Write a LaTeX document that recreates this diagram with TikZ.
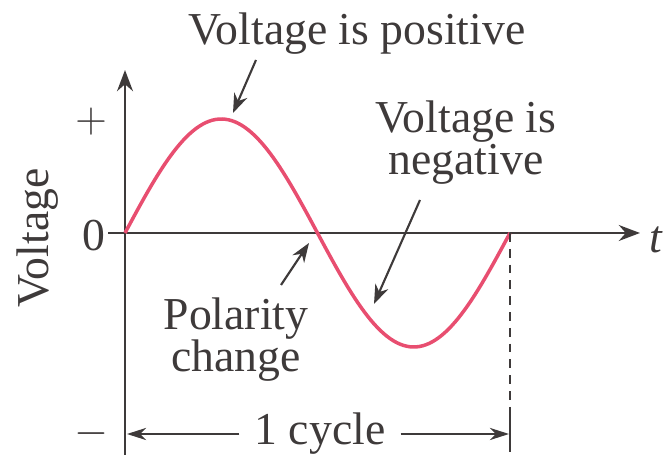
\documentclass[tikz,border=0pt]{standalone}
\usepackage{fontspec}
\setmainfont{Liberation Serif}
\usetikzlibrary{arrows.meta}

\definecolor{wavepink}{RGB}{232,78,112}
\definecolor{inkgray}{RGB}{62,58,58}

\begin{document}
\begin{tikzpicture}[x=0.02cm, y=-0.02cm, line width=1.3pt, inkgray,
	every node/.style={font=\fontsize{26}{24}\selectfont, text=inkgray, inner sep=1pt},
	axisline/.style={line width=1.7pt, -{Stealth[length=12pt, width=9pt]}},
	callout/.style={line width=1.2pt, -{Stealth[length=11pt, width=8pt]}},
	dimarrow/.style={line width=1.1pt, -{Stealth[length=11pt, width=7pt]}}]

	\useasboundingbox (0,0) rectangle (663,455);

	% ============ AXES ============
	\coordinate (O) at (125,233);
	\coordinate (Vtop) at (125,70);
	\coordinate (Vbot) at (125,455);
	\coordinate (Hleft) at (108,233);
	\coordinate (Hright) at (640,233);

	\draw[axisline] (Vbot) -- (Vtop);
	\draw[axisline] (Hleft) -- (Hright);

	\node[anchor=west] (tlab) at (647,240) {\itshape t};
	\node (plus) at (91,122) {$+$};
	\node (zero) at (94,236) {0};
	\node (minus) at (91,434) {$-$};
	\node[rotate=90] (vlab) at (38,238) {Voltage};

	% ============ SINE WAVE ============
	\draw[wavepink, line width=2pt] plot[domain=0:360, samples=120]
		({125+\x*1.0694}, {233-114*sin(\x)});

	% points on the wave
	\coordinate (peak) at (233,113);
	\coordinate (cross) at (309,243);
	\coordinate (fall) at (374,304);
	\coordinate (endpt) at (510,233);

	% ============ LABELS ============
	\node (pos) at (357,34) {Voltage is positive};
	\node[align=center] (neg) at (466,143) {Voltage is\\negative};
	\node[align=center] (pol) at (236,340) {Polarity\\change};

	\draw[callout] (256,60) -- (peak);
	\draw[callout] (420,200) -- (fall);
	\draw[callout] (281,285) -- (cross);

	% ============ ONE CYCLE ============
	\draw[dashed, line width=1pt, dash pattern=on 5pt off 4pt] (endpt) -- (510,420);
	\draw[line width=1.1pt] (510,412) -- (510,452);

	\coordinate (cycL) at (127,434);
	\coordinate (cycR) at (509,434);
	\node[inner xsep=8pt] (cyc) at (320,434) {1 cycle};

	\draw[dimarrow] (cyc.west) -- (cycL);
	\draw[dimarrow] (cyc.east) -- (cycR);

\end{tikzpicture}
\end{document}
